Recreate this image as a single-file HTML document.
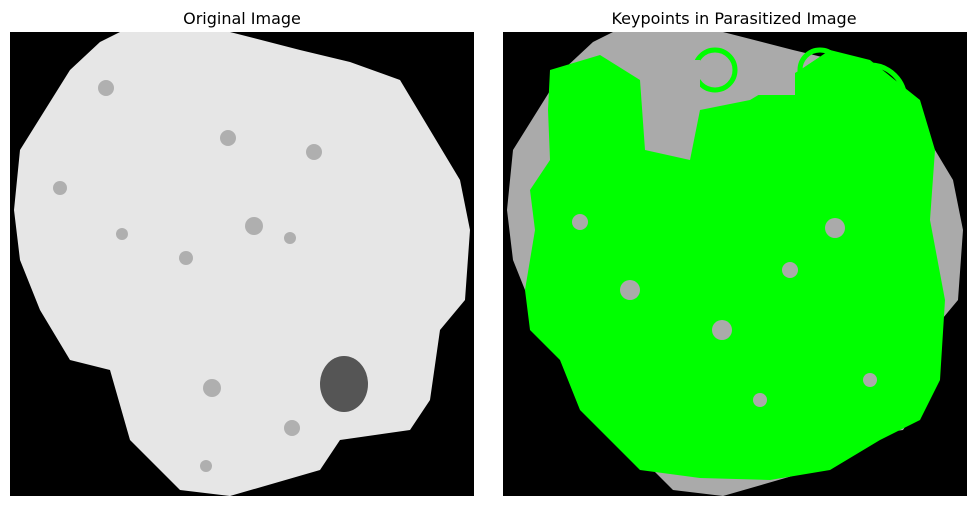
<!DOCTYPE html>
<html><head><meta charset="utf-8"><style>
body{margin:0;background:#fff;width:976px;height:506px;overflow:hidden;font-family:"DejaVu Sans","Liberation Sans",sans-serif}
</style></head><body>
<svg width="976" height="506">
<g>
<text x="242" y="24" font-size="16" text-anchor="middle" fill="#000">Original Image</text>
<rect x="10" y="32" width="464" height="464" fill="#000"/>
<polygon fill="#e6e6e6" points="70,70 100,42 120,32 230,32 300,50 350,62 400,80 430,130 460,180 470,230 465,300 440,330 430,400 410,430 340,440 320,470 230,496 180,490 130,440 110,370 70,360 40,310 20,260 14,210 20,150 45,110"/>
<g fill="#999" opacity="0.7">
<circle cx="106" cy="88" r="8"/><circle cx="228" cy="138" r="8"/><circle cx="314" cy="152" r="8"/><circle cx="60" cy="188" r="7"/><circle cx="254" cy="226" r="9"/><circle cx="186" cy="258" r="7"/><circle cx="290" cy="238" r="6"/><circle cx="122" cy="234" r="6"/><circle cx="212" cy="388" r="9"/><circle cx="292" cy="428" r="8"/><circle cx="206" cy="466" r="6"/>
</g>
<ellipse cx="344" cy="384" rx="24" ry="28" fill="#555"/>
</g>
<g>
<text x="734" y="24" font-size="16" text-anchor="middle" fill="#000">Keypoints in Parasitized Image</text>
<rect x="503" y="32" width="464" height="464" fill="#000"/>
<polygon fill="#aaa" points="563,70 593,42 613,32 723,32 793,50 843,62 893,80 923,130 953,180 963,230 958,300 933,330 923,400 903,430 833,440 813,470 723,496 673,490 623,440 603,370 563,360 533,310 513,260 507,210 513,150 538,110"/>
<polygon fill="#00ff00" points="550,70 600,55 640,80 645,150 690,160 700,110 750,100 800,70 830,50 870,60 920,100 935,150 930,220 945,300 940,380 920,420 880,440 830,470 770,480 700,478 640,470 610,440 580,410 560,360 530,330 525,290 535,230 530,190 550,160 548,110"/>
<g fill="none" stroke="#00ff00" stroke-width="5">
<circle cx="715" cy="70" r="20"/><circle cx="820" cy="70" r="20"/><circle cx="600" cy="100" r="35"/><circle cx="560" cy="200" r="25"/><circle cx="730" cy="330" r="22"/><circle cx="650" cy="440" r="25"/><circle cx="870" cy="100" r="35"/>
</g>
<g fill="#aaa">
<rect x="660" y="60" width="40" height="40"/><rect x="745" y="65" width="50" height="30"/><circle cx="835" cy="228" r="10"/><circle cx="630" cy="290" r="10"/><circle cx="790" cy="270" r="8"/><circle cx="722" cy="330" r="10"/><circle cx="580" cy="222" r="8"/><circle cx="870" cy="380" r="7"/><circle cx="760" cy="400" r="7"/>
</g>
</g>
</svg>
</body></html>
